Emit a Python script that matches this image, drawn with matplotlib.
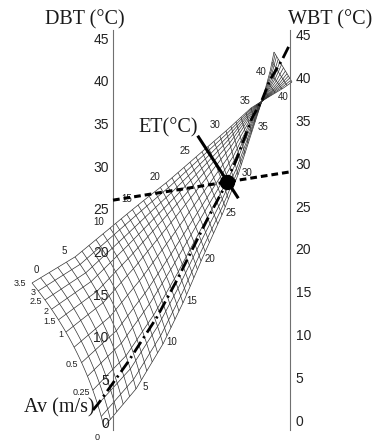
import numpy as np
import matplotlib
matplotlib.use("Agg")
import matplotlib.pyplot as plt

plt.rcParams['font.family'] = ['Liberation Sans', 'DejaVu Sans']

# ---------------- data ----------------
dbt_ticks = list(range(0, 50, 5))
wbt_ticks = list(range(0, 50, 5))
dbt_reading = 26.0          # dry-bulb temperature of the example (°C)
wbt_reading = 29.0          # wet-bulb temperature of the example (°C)

et_lines = list(range(0, 43))                      # effective-temperature lines (°C)
et_label_values = [0, 5, 10, 15, 20, 25, 30, 35, 40]
vel_label_values = [3.5, 3, 2.5, 2, 1.5, 1, 0.5, 0.25, 0]
vel_label_text = ['3.5', '3', '2.5', '2', '1.5', '1', '0.5', '0.25', '0']
vel_curves = [3.5, 3, 2.5, 2, 1.5, 1, 0.75, 0.5, 0.375, 0.25, 0.15, 0.07, 0]

# ---------------- nomogram geometry (pixel frame) ----------------
W, H = 374, 441
vel_frac = [0.0, 0.061, 0.13, 0.2, 0.278, 0.367, 0.58, 0.764, 1.0]   # position of velocity on ET line
edge_et = [0, 5, 10, 15, 20, 25, 30, 35, 37, 40, 42]
upper_x = [32, 75, 110, 138, 166, 196, 226, 251, 262, 282, 292]
upper_y = [283, 257, 228, 205, 183, 157, 131, 108, 101, 89, 82]
lower_x = [104, 136, 163, 183, 201, 222, 238, 255, 262, 270, 274]
lower_y = [427, 389, 344, 303, 261, 215, 175, 122, 101, 72, 52]
focus_et = 37.0
av_track_x = [93, 98, 128, 157, 177, 192, 208, 223, 237, 252, 262, 270, 282, 290]
av_track_y = [410, 404, 362, 317, 280, 250, 218, 190, 158, 118, 100, 80, 60, 44]

vf_v = vel_label_values[::-1]
vf_f = vel_frac[::-1]


def frac_of(v):
    return np.interp(v, vf_v, vf_f)


def point(e, s):
    e = np.asarray(e, float)
    s = np.asarray(s, float)
    ux, uy = np.interp(e, edge_et, upper_x), np.interp(e, edge_et, upper_y)
    lx, ly = np.interp(e, edge_et, lower_x), np.interp(e, edge_et, lower_y)
    dx, dy = lx - ux, ly - uy
    n = np.hypot(dx, dy)
    n = np.where(n < 1e-6, 1.0, n)
    nx, ny = dy / n, -dx / n
    b = 9.0 * np.clip(1 - e / focus_et, 0, None) ** 2 * 4 * s * (1 - s)
    return ux + s * dx + b * nx, uy + s * dy + b * ny


fig = plt.figure(figsize=(W / 100, H / 100), dpi=100)

# DBT scale
axd = fig.add_axes([0, 0, 1, 1], zorder=2)
axd.patch.set_alpha(0)
axd.set_xlim(0, W)
axd.set_ylim((422 - H) / 8.533, 422 / 8.533)
for sp in ['top', 'right', 'bottom']:
    axd.spines[sp].set_visible(False)
axd.spines['left'].set_position(('data', 113))
axd.spines['left'].set_bounds((422 - 430) / 8.533, (422 - 30) / 8.533)
axd.spines['left'].set_color('#707070')
axd.set_xticks([])
axd.set_yticks(dbt_ticks)
axd.tick_params(axis='y', length=0, pad=3, labelsize=10, labelcolor='#222222')

# WBT scale
axw = fig.add_axes([0, 0, 1, 1], zorder=2)
axw.patch.set_alpha(0)
axw.set_xlim(0, W)
axw.set_ylim((420 - H) / 8.556, 420 / 8.556)
for sp in ['top', 'left', 'bottom']:
    axw.spines[sp].set_visible(False)
axw.spines['right'].set_position(('data', 290))
axw.spines['right'].set_bounds((420 - 430) / 8.556, (420 - 30) / 8.556)
axw.spines['right'].set_color('#707070')
axw.set_xticks([])
axw.yaxis.tick_right()
axw.set_yticks(wbt_ticks)
axw.tick_params(axis='y', length=0, pad=4, labelsize=10, labelcolor='#222222')

# mesh
ax = fig.add_axes([0, 0, 1, 1], zorder=1)
ax.set_xlim(0, W)
ax.set_ylim(H, 0)
ax.axis('off')
mesh_kw = dict(color='#333333', lw=0.5, solid_capstyle='butt')
ee = np.linspace(0, max(et_lines), 500)
for v in vel_curves:
    x, y = point(ee, np.full_like(ee, frac_of(v)))
    ax.plot(x, y, **mesh_kw)
ss = np.linspace(0, 1, 40)
for e in et_lines:
    x, y = point(np.full_like(ss, e), ss)
    ax.plot(x, y, **mesh_kw)

# overlay
ov = fig.add_axes([0, 0, 1, 1], zorder=3)
ov.patch.set_alpha(0)
ov.set_xlim(0, W)
ov.set_ylim(H, 0)
ov.axis('off')

lab_kw = dict(fontsize=7, color='#222222', ha='center', va='center')
for e in et_label_values:
    if e <= 35:
        ux, uy = point(e, 0.0)
        off = (4, -13) if e == 0 else ((-6, -7) if e == 35 else (-11, -6))
        ov.text(ux + off[0], uy + off[1], str(e), zorder=1, **lab_kw)
        if e > 0:
            lx, ly = point(e, 1.0)
            off = (8, 5) if e == 35 else (9, -2)
            ov.text(lx + off[0], ly + off[1], str(e), **lab_kw)
    else:
        lx, ly = point(e, 1.0)
        ov.text(lx - 9, ly, str(e), **lab_kw)
        ux, uy = point(e, 0.0)
        ov.text(ux + 1, uy + 8, str(e), **lab_kw)

for v, t in zip(vel_label_values, vel_label_text):
    x, y = point(0.0, frac_of(v))
    if v == 0:
        ov.text(x - 7, y + 10, t, fontsize=6.5, color='#222222', ha='center', va='center')
    elif v == 3.5:
        ov.text(x - 6, y, t, fontsize=6.5, color='#222222', ha='right', va='center')
    else:
        ov.text(x - 3, y + 2, t, fontsize=6.5, color='#222222', ha='right', va='center')

# example reading: DBT-WBT line
to_ov = ov.transData.inverted()
p1 = to_ov.transform(axd.transData.transform((113, dbt_reading)))
p2 = to_ov.transform(axw.transData.transform((290, wbt_reading)))
ov.plot([p1[0], p2[0]], [p1[1], p2[1]], color='black', lw=2.2,
        linestyle=(0, (2.2, 1.3)), zorder=4)

# velocity curve of the example
ov.plot(av_track_x, av_track_y, color='black', lw=2.0,
        linestyle=(0, (4.5, 1.6, 0.8, 1.6)), zorder=4)

# intersection point
tx = np.linspace(av_track_x[0], av_track_x[-1], 4000)
ty = np.interp(tx, av_track_x, av_track_y)
ly_line = p1[1] + (tx - p1[0]) * (p2[1] - p1[1]) / (p2[0] - p1[0])
k = np.argmin(np.abs(ty - ly_line))
dot_x, dot_y = tx[k], ty[k]
ov.plot([dot_x], [dot_y], 'o', color='black', ms=10, zorder=6)
ov.plot([dot_x - 28, dot_x + 11], [dot_y - 45, dot_y + 15], color='black', lw=2.2, zorder=5)

serif = dict(family=['Liberation Serif', 'DejaVu Serif'], fontsize=14.5,
             color='#1a1a1a', ha='center', va='center')
ov.text(85, 20, 'DBT (°C)', **serif)
ov.text(330, 20, 'WBT (°C)', **serif)
ov.text(168, 128, 'ET(°C)', **serif)
ov.text(59, 408, 'Av (m/s)', **serif)

fig.savefig('out.png', dpi=100)
